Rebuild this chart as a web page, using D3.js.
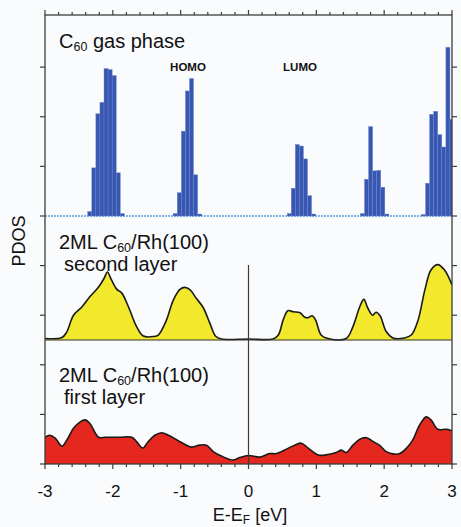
<!DOCTYPE html>
<html>
<head>
<meta charset="utf-8">
<script src="https://cdn.jsdelivr.net/npm/d3@7"></script>
<style>
  body { margin: 0; background: #fafbfd; }
  svg { display: block; font-family: "Liberation Sans", Arial, sans-serif; }
</style>
</head>
<body>
<div id="chart"></div>
<script>
// gas phase histogram: left edge of each 0.06 eV bin, and height
const BIN = 0.06;
const gasEnergy = [
  -2.37, -2.31, -2.25, -2.19, -2.13, -2.07, -2.01, -1.95, -1.89,
  -1.11, -1.05, -0.99, -0.93, -0.87, -0.81, -0.75,
  0.57, 0.63, 0.69, 0.75, 0.81, 0.87, 0.93,
  1.65, 1.71, 1.77, 1.83, 1.89, 1.95, 2.01,
  2.55, 2.61, 2.67, 2.73, 2.79, 2.85, 2.91, 2.97
];
const gasPdos = [
  0.09, 0.97, 2.06, 2.29, 2.97, 2.95, 2.83, 0.87, 0.05,
  0.05, 0.47, 1.71, 2.52, 2.77, 0.83, 0.04,
  0.05, 0.56, 1.44, 1.41, 1.15, 0.41, 0.04,
  0.05, 0.74, 1.80, 0.91, 0.92, 0.58, 0.04,
  0.03, 0.66, 2.05, 2.11, 1.64, 1.39, 3.40, 1.95
];

// second layer PDOS
const secondE = [-3.0, -2.75, -2.68, -2.58, -2.46, -2.34, -2.21, -2.13, -2.08, -2.02, -1.94, -1.87, -1.77, -1.65, -1.55,
  -1.40, -1.33, -1.21, -1.11, -1.01, -0.94, -0.86, -0.77, -0.67, -0.57, -0.48, -0.40, 0.0, 0.36, 0.44, 0.51, 0.58,
  0.66, 0.76, 0.83, 0.88, 0.94, 0.99, 1.07, 1.17, 1.44, 1.54, 1.64, 1.70, 1.76, 1.83, 1.88, 1.94, 2.03, 2.13, 2.30,
  2.40, 2.50, 2.60, 2.69, 2.79, 2.89, 3.0];
const secondPdos = [0.03, 0.05, 0.16, 0.50, 0.66, 0.87, 1.07, 1.24, 1.37, 1.21, 1.02, 0.95, 0.67, 0.27, 0.08,
  0.07, 0.10, 0.40, 0.80, 1.02, 1.06, 1.01, 0.84, 0.66, 0.34, 0.07, 0.02, 0.02, 0.02, 0.10, 0.40, 0.59,
  0.57, 0.55, 0.46, 0.45, 0.49, 0.40, 0.10, 0.03, 0.03, 0.27, 0.67, 0.82, 0.64, 0.50, 0.56, 0.49, 0.17, 0.04, 0.04,
  0.10, 0.40, 1.01, 1.41, 1.52, 1.41, 1.11];

// first layer PDOS
const firstE = [-3.0, -2.93, -2.85, -2.75, -2.68, -2.58, -2.48, -2.41, -2.34, -2.21, -2.11, -1.90, -1.72, -1.65,
  -1.56, -1.48, -1.38, -1.28, -1.18, -1.01, -0.84, -0.72, -0.62, -0.52, -0.40, -0.23, -0.13, 0.0, 0.17, 0.31,
  0.41, 0.56, 0.68, 0.78, 0.88, 1.03, 1.17, 1.29, 1.37, 1.44, 1.54, 1.64, 1.74, 1.84, 1.93, 2.03, 2.15, 2.23,
  2.33, 2.42, 2.52, 2.62, 2.69, 2.79, 2.92, 3.0];
const firstPdos = [0.54, 0.58, 0.52, 0.36, 0.48, 0.72, 0.85, 0.89, 0.82, 0.54, 0.54, 0.54, 0.54, 0.45,
  0.32, 0.45, 0.58, 0.63, 0.58, 0.45, 0.34, 0.38, 0.38, 0.25, 0.16, 0.08, 0.13, 0.17, 0.14, 0.21,
  0.21, 0.30, 0.38, 0.42, 0.32, 0.18, 0.19, 0.23, 0.28, 0.23, 0.38, 0.50, 0.53, 0.45, 0.38, 0.25, 0.20, 0.21,
  0.32, 0.48, 0.78, 0.95, 0.89, 0.70, 0.70, 0.67];

const xTicks = [-3, -2, -1, 0, 1, 2, 3];

const W = 461, H = 527;
const FRAME = { left: 45, right: 452, top: 15, bottom: 464 };
const SPLIT1 = 216, SPLIT2 = 340;

const svg = d3.select("#chart").append("svg")
  .attr("width", W)
  .attr("height", H);

const x = d3.scaleLinear().domain([-3, 3]).range([FRAME.left, FRAME.right]);
const yTop = d3.scaleLinear().domain([0, 4.05]).range([SPLIT1, FRAME.top]);
const yMid = d3.scaleLinear().domain([0, 2.5]).range([SPLIT2, SPLIT1]);
const yBot = d3.scaleLinear().domain([0, 2.5]).range([FRAME.bottom, SPLIT2]);

svg.append("defs").append("clipPath").attr("id", "plotClip")
  .append("rect")
  .attr("x", FRAME.left).attr("y", FRAME.top)
  .attr("width", FRAME.right - FRAME.left)
  .attr("height", FRAME.bottom - FRAME.top);

const plot = svg.append("g").attr("clip-path", "url(#plotClip)");

// gas phase bars
const gas = gasEnergy.map((e, i) => ({ e, v: gasPdos[i] }));
plot.append("line")
  .attr("x1", FRAME.left).attr("x2", FRAME.right)
  .attr("y1", yTop(0)).attr("y2", yTop(0))
  .attr("stroke", "#5b9be0")
  .attr("stroke-width", 1.3)
  .attr("stroke-dasharray", "2,1");

plot.selectAll("rect.gas").data(gas).enter().append("rect")
  .attr("class", "gas")
  .attr("x", d => x(d.e))
  .attr("width", d => x(d.e + BIN) - x(d.e))
  .attr("y", d => yTop(d.v))
  .attr("height", d => yTop(0) - yTop(d.v))
  .attr("fill", "#3757b2")
  .attr("stroke", "#6f87cb")
  .attr("stroke-width", 0.4);

// second and first layer curves
function drawCurve(E, V, y, fill) {
  const pts = E.map((e, i) => [e, V[i]]);
  const area = d3.area()
    .x(d => x(d[0]))
    .y0(y(0))
    .y1(d => y(d[1]))
    .curve(d3.curveCatmullRom.alpha(0.5));
  const line = d3.line()
    .x(d => x(d[0]))
    .y(d => y(d[1]))
    .curve(d3.curveCatmullRom.alpha(0.5));
  plot.append("path").datum(pts).attr("d", area).attr("fill", fill);
  plot.append("path").datum(pts).attr("d", line)
    .attr("fill", "none").attr("stroke", "#1a1a1a").attr("stroke-width", 1.6);
}
drawCurve(secondE, secondPdos, yMid, "#f2e82c");
drawCurve(firstE, firstPdos, yBot, "#e4281f");

// Fermi level line
svg.append("line")
  .attr("x1", x(0)).attr("x2", x(0))
  .attr("y1", 265).attr("y2", FRAME.bottom)
  .attr("stroke", "#4a3832")
  .attr("stroke-width", 1.2);

// panel divider
svg.append("line")
  .attr("x1", FRAME.left).attr("x2", FRAME.right)
  .attr("y1", SPLIT2).attr("y2", SPLIT2)
  .attr("stroke", "#333").attr("stroke-width", 1.2);

// frame
const frameColor = "#3d3d3d";
svg.append("rect")
  .attr("x", FRAME.left).attr("y", FRAME.top)
  .attr("width", FRAME.right - FRAME.left)
  .attr("height", FRAME.bottom - FRAME.top)
  .attr("fill", "none")
  .attr("stroke", frameColor)
  .attr("stroke-width", 1.3);

// x ticks (outward, top and bottom)
const minor = d3.range(-3, 3.001, 0.2).map(v => +v.toFixed(1));
const ticks = svg.append("g").attr("stroke", frameColor).attr("stroke-width", 1.2);
minor.forEach(v => {
  const major = Math.abs(v - Math.round(v)) < 1e-6;
  const len = major ? 5 : 3;
  ticks.append("line").attr("x1", x(v)).attr("x2", x(v))
    .attr("y1", FRAME.top).attr("y2", FRAME.top - len);
  ticks.append("line").attr("x1", x(v)).attr("x2", x(v))
    .attr("y1", FRAME.bottom).attr("y2", FRAME.bottom + len);
});

// y ticks (outward, left and right)
const yTickPos = [1, 2, 3].map(yTop)
  .concat([yTop(0)])
  .concat([0.5, 1.5].map(yMid))
  .concat([1, 2].map(yBot))
  .concat([yBot(0)]);
yTickPos.forEach(p => {
  ticks.append("line").attr("x1", FRAME.left).attr("x2", FRAME.left - 5).attr("y1", p).attr("y2", p);
  ticks.append("line").attr("x1", FRAME.right).attr("x2", FRAME.right + 5).attr("y1", p).attr("y2", p);
});

// x tick labels
svg.append("g").selectAll("text").data(xTicks).enter().append("text")
  .attr("x", d => x(d))
  .attr("y", 497)
  .attr("text-anchor", "middle")
  .attr("font-size", 17)
  .attr("fill", "#111")
  .text(d => d);

// axis titles
const xt = svg.append("text")
  .attr("x", 250).attr("y", 521)
  .attr("text-anchor", "middle")
  .attr("font-size", 18)
  .attr("fill", "#111");
xt.append("tspan").text("E-E");
xt.append("tspan").attr("font-size", 12).attr("dy", 3).text("F");
xt.append("tspan").attr("dy", -3).text(" [eV]");

svg.append("text")
  .attr("transform", "translate(25,241) rotate(-90)")
  .attr("text-anchor", "middle")
  .attr("font-size", 18)
  .attr("fill", "#111")
  .text("PDOS");

// panel labels
function c60(sel, prefix, suffix) {
  sel.append("tspan").text(prefix + "C");
  sel.append("tspan").attr("font-size", 12.5).attr("dy", 3).text("60");
  sel.append("tspan").attr("dy", -3).text(suffix);
}
c60(svg.append("text").attr("x", 59).attr("y", 47.5).attr("font-size", 20).attr("fill", "#111"),
  "", " gas phase");

svg.append("text").attr("x", 188).attr("y", 71).attr("text-anchor", "middle")
  .attr("font-size", 11.5).attr("font-weight", "bold").attr("fill", "#111").text("HOMO");
svg.append("text").attr("x", 300).attr("y", 71).attr("text-anchor", "middle")
  .attr("font-size", 11.5).attr("font-weight", "bold").attr("fill", "#111").text("LUMO");

c60(svg.append("text").attr("x", 59).attr("y", 249).attr("font-size", 20).attr("fill", "#111"),
  "2ML ", "/Rh(100)");
svg.append("text").attr("x", 64).attr("y", 271).attr("font-size", 20).attr("fill", "#111")
  .text("second layer");

c60(svg.append("text").attr("x", 59).attr("y", 382).attr("font-size", 20).attr("fill", "#111"),
  "2ML ", "/Rh(100)");
svg.append("text").attr("x", 64).attr("y", 404).attr("font-size", 20).attr("fill", "#111")
  .text("first layer");
</script>
</body>
</html>
